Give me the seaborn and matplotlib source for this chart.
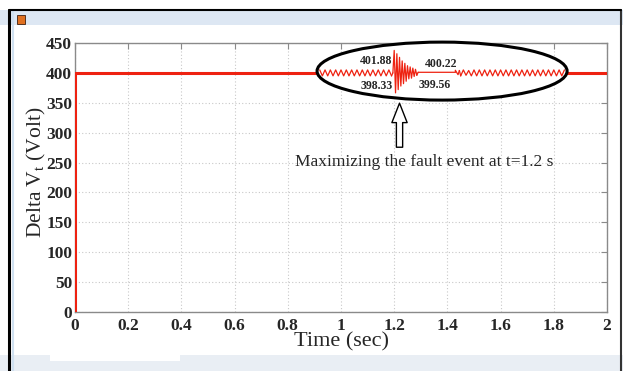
import numpy as np
import pandas as pd
import matplotlib
matplotlib.use("Agg")
import matplotlib.pyplot as plt
from matplotlib.patches import Ellipse, Rectangle
import seaborn as sns

# ── data ─────────────────────────────────────────────
time_s = [0.0, 0.0, 2.0]
volt = [0.0, 400.0, 400.0]

# magnified view of the fault (real volts, drawn with GAIN around 400 V)
pre_t = np.round(np.arange(0.92, 1.195, 0.01), 3)
pre_v = [400.25, 399.75, 400.25, 399.75, 400.25, 399.75, 400.25, 399.75,
         400.25, 399.75, 400.25, 399.75, 400.25, 399.75, 400.25, 399.75,
         400.25, 399.75, 400.25, 399.75, 400.25, 399.75, 400.25, 399.75,
         400.25, 399.75, 400.25, 399.75]
burst_t = np.round(np.arange(1.195, 1.29, 0.005), 3)
burst_v = [400.0, 401.88, 398.33, 401.60, 398.60, 401.30, 398.90, 401.00,
           399.10, 400.80, 399.30, 400.60, 399.50, 400.50, 399.56, 400.40,
           399.70, 400.30, 399.80]
flat_t = [1.29, 1.43, 1.43, 1.44, 1.445]
flat_v = [400.05, 400.05, 400.22, 399.85, 400.20]
post_t = np.round(np.arange(1.45, 1.845, 0.01), 3)
post_v = [399.75, 400.25, 399.80, 400.20, 399.75, 400.25, 399.75, 400.25,
          399.75, 400.25, 399.75, 400.25, 399.75, 400.25, 399.75, 400.25,
          399.75, 400.25, 399.75, 400.25, 399.75, 400.25, 399.75, 400.25,
          399.75, 400.25, 399.75, 400.25, 399.75, 400.25, 399.75, 400.25,
          399.75, 400.25, 399.75, 400.25, 399.75, 400.25, 399.75, 400.25]
GAIN = 20.0

peak_labels = ["401.88", "398.33", "400.22", "399.56"]
peak_pos = [(1.13, 420), (1.135, 378), (1.378, 415), (1.352, 380)]

x_ticks = [0, 0.2, 0.4, 0.6, 0.8, 1, 1.2, 1.4, 1.6, 1.8, 2]
x_ticklabels = ["0", "0.2", "0.4", "0.6", "0.8", "1", "1.2", "1.4", "1.6", "1.8", "2"]
y_ticks = list(range(0, 451, 50))

# ── style ───────────────────────────────────────────
sns.set_style("white")
plt.rcParams["font.family"] = ["Liberation Serif", "DejaVu Serif"]
plt.rcParams["mathtext.fontset"] = "custom"
plt.rcParams["mathtext.rm"] = "Liberation Serif"
plt.rcParams["mathtext.it"] = "Liberation Serif"

fig = plt.figure(figsize=(6.23, 3.71), dpi=100)
fig.patch.set_facecolor("white")

# window chrome
fig.add_artist(Rectangle((0, 1 - 25 / 371), 1, 15 / 371, transform=fig.transFigure,
                         facecolor="#dde7f3", edgecolor="none", zorder=0))
fig.add_artist(Rectangle((0, 0), 1, 16 / 371, transform=fig.transFigure,
                         facecolor="#e9eef4", edgecolor="none", zorder=0))
fig.add_artist(Rectangle((50 / 623, 10 / 371), 130 / 623, 6 / 371, transform=fig.transFigure,
                         facecolor="white", edgecolor="none", zorder=0))
fig.add_artist(Rectangle((17 / 623, 1 - 24 / 371), 8 / 623, 9 / 371, transform=fig.transFigure,
                         facecolor="#e07020", edgecolor="#402010", lw=0.6, zorder=1))
fig.add_artist(plt.Line2D([9 / 623, 9 / 623], [0, 1 - 10 / 371], transform=fig.transFigure,
                          color="black", lw=2.2))
fig.add_artist(plt.Line2D([13 / 623, 13 / 623], [0, 1 - 10 / 371], transform=fig.transFigure,
                          color="#cfe0f0", lw=1.5))
fig.add_artist(plt.Line2D([621 / 623, 621 / 623], [0, 1 - 10 / 371], transform=fig.transFigure,
                          color="#333333", lw=1.5))
fig.add_artist(plt.Line2D([9 / 623, 621 / 623], [1 - 10 / 371, 1 - 10 / 371],
                          transform=fig.transFigure, color="black", lw=1.5))

ax = fig.add_axes([75 / 623, 1 - 312 / 371, 532 / 623, 269 / 371])

df = pd.DataFrame({"t": time_s, "v": volt})
sns.lineplot(data=df, x="t", y="v", sort=False, estimator=None,
             color="#ee2211", lw=2.2, ax=ax, zorder=3)

ax.set_xlim(0, 2)
ax.set_ylim(0, 450)
ax.set_xticks(x_ticks)
ax.set_xticklabels(x_ticklabels)
ax.set_yticks(y_ticks)
ax.grid(True, color="#c8c8c8", ls=(0, (1, 2)), lw=0.8)
for s in ax.spines.values():
    s.set_color("#8a8a8a")
    s.set_linewidth(1.0)
ax.tick_params(direction="in", length=4, color="#8a8a8a", top=True, right=True,
               labelsize=12.5, pad=2)
ax.tick_params(axis="x", pad=4)
for lab in ax.get_xticklabels() + ax.get_yticklabels():
    lab.set_fontweight("bold")
ax.set_xlabel("Time (sec)", fontsize=16)
ax.set_ylabel("Delta V$_t$ (Volt)", fontsize=15.5)
ax.yaxis.set_label_coords(-0.05, 0.52)
ax.xaxis.set_label_coords(0.5, -0.075)

# magnifier ellipse with zoomed waveform
ell = Ellipse((1.38, 403), 0.94, 97, facecolor="white", edgecolor="black",
              lw=2.2, zorder=4, clip_on=False)
ax.add_patch(ell)
for tt, vv in [(pre_t, pre_v), (burst_t, burst_v), (flat_t, flat_v), (post_t, post_v)]:
    vz = 400 + (np.array(vv) - 400) * GAIN
    ax.plot(tt, vz, color="#ee2211", lw=0.9, zorder=5)
ax.plot([pre_t[-1], burst_t[0]], [400 + (pre_v[-1] - 400) * GAIN, 400], color="#ee2211", lw=0.9, zorder=5)
ax.plot([burst_t[-1], flat_t[0]], [400 + (burst_v[-1] - 400) * GAIN, 400 + (flat_v[0] - 400) * GAIN],
        color="#ee2211", lw=0.9, zorder=5)
ax.plot([flat_t[-1], post_t[0]], [400 + (flat_v[-1] - 400) * GAIN, 400 + (post_v[0] - 400) * GAIN],
        color="#ee2211", lw=0.9, zorder=5)

for txt, (px, py) in zip(peak_labels, peak_pos):
    ax.text(px, py, txt, fontsize=8.5, fontweight="bold", ha="center", va="center", zorder=6)

# hollow arrow and note
ax.annotate("", xy=(1.22, 354), xytext=(1.22, 271),
            arrowprops=dict(arrowstyle="simple,head_length=1.4,head_width=1.1,tail_width=0.45",
                            facecolor="white", edgecolor="black", lw=1.0),
            zorder=6)
ax.text(1.311, 251, "Maximizing the fault event at t=1.2 s", fontsize=12.5,
        ha="center", va="center", zorder=6)

plt.savefig("out.png", dpi=100)
